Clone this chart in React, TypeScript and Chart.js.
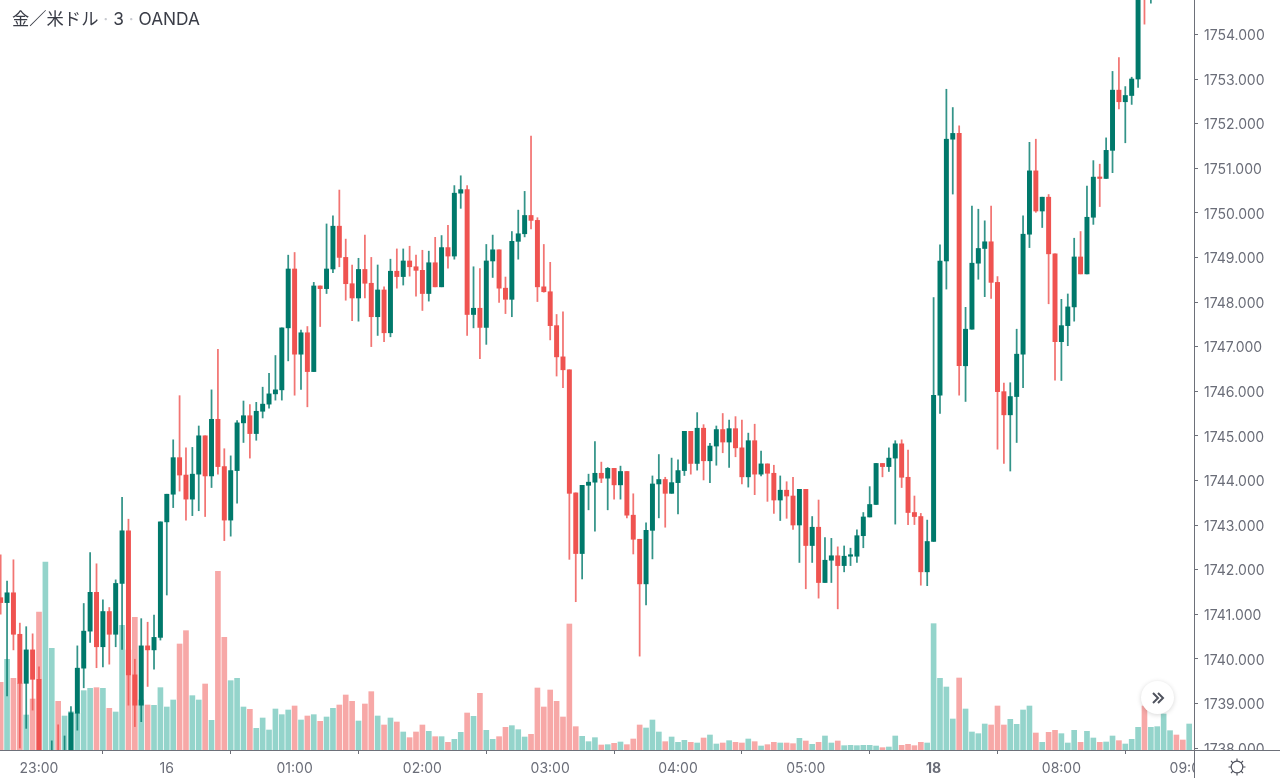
import React, { useEffect, useRef } from "react";
import { Chart, registerables } from "chart.js";

Chart.register(...registerables);

const firstBar = -6;

const opens = [
  1741.37,1741.26,1741.48,1740.55,1739.45,1740.20,1739.54,1737.60,1737.70,1737.85,
  1737.70,1737.90,1738.78,1739.79,1740.62,1741.49,1740.27,1741.06,1740.55,1741.69,
  1742.87,1739.64,1738.96,1740.29,1740.20,1740.48,1743.07,1743.69,1744.51,1744.12,
  1743.58,1744.14,1745.00,1744.10,1745.37,1744.31,1743.11,1744.22,1745.29,1745.45,
  1745.05,1745.55,1745.71,1745.94,1746.03,1747.42,1748.74,1746.83,1747.31,1746.44,
  1748.36,1748.30,1748.74,1749.70,1749.00,1748.41,1748.09,1748.73,1748.42,1747.67,
  1748.27,1747.31,1748.69,1748.57,1748.92,1748.79,1748.71,1748.19,1748.88,1748.34,
  1749.22,1749.03,1750.44,1750.52,1747.72,1747.86,1747.43,1748.92,1749.17,1748.31,
  1748.06,1749.36,1749.53,1749.94,1749.83,1748.34,1748.23,1747.47,1746.77,1746.48,
  1743.72,1742.36,1743.89,1743.96,1744.16,1744.05,1744.27,1743.90,1744.20,1743.22,
  1742.68,1741.68,1742.88,1743.92,1744.02,1743.71,1743.95,1744.22,1745.10,1744.38,
  1745.17,1744.44,1744.77,1745.14,1744.86,1745.16,1744.73,1744.08,1744.89,1744.14,
  1744.37,1744.16,1743.56,1743.78,1743.65,1743.00,1743.80,1742.54,1742.95,1741.71,
  1742.21,1742.31,1742.09,1742.30,1742.30,1742.76,1743.18,1743.46,1744.38,1744.31,
  1744.50,1744.82,1744.07,1743.28,1743.19,1741.95,1742.63,1745.91,1748.92,1751.65,
  1751.78,1746.57,1747.39,1748.87,1749.20,1749.35,1748.44,1745.99,1745.47,1745.88,
  1746.83,1749.52,1750.94,1750.04,1750.35,1749.08,1747.11,1747.47,1747.89,1749.01,
  1748.63,1749.90,1750.80,1750.77,1751.40,1752.75,1752.49,1752.63,1753.00,1755.70,
  1755.20,1755.80,1756.20,1757.00,1757.30,1757.00,1756.80,
];

const highs = [
  1742.33,1741.74,1742.22,1740.80,1740.72,1740.56,1739.82,1737.80,1738.16,1738.52,
  1738.27,1738.93,1740.29,1741.24,1742.38,1742.13,1741.32,1741.15,1741.77,1743.62,
  1743.13,1739.99,1740.90,1740.82,1740.98,1743.07,1743.69,1744.91,1745.90,1744.73,
  1744.74,1745.22,1745.00,1746.03,1746.94,1744.71,1744.55,1745.34,1745.78,1745.70,
  1745.75,1746.09,1746.40,1746.80,1747.42,1749.05,1749.11,1747.37,1747.45,1748.44,
  1748.36,1749.75,1749.93,1750.51,1749.41,1748.83,1748.98,1749.50,1749.00,1748.83,
  1748.34,1748.96,1749.19,1749.19,1749.25,1749.05,1749.16,1749.14,1749.45,1749.49,
  1749.72,1750.61,1750.83,1750.61,1748.79,1748.75,1749.29,1749.50,1749.17,1748.56,
  1749.58,1750.06,1750.48,1751.72,1749.89,1749.29,1748.89,1747.72,1747.78,1746.48,
  1743.72,1743.89,1744.14,1744.87,1744.41,1744.29,1744.27,1744.32,1744.20,1743.70,
  1742.68,1743.05,1744.10,1744.58,1744.07,1744.50,1744.46,1745.10,1745.10,1745.52,
  1745.25,1744.83,1745.22,1745.50,1745.35,1745.43,1745.35,1745.06,1745.26,1744.66,
  1744.37,1744.34,1744.10,1743.97,1744.07,1743.80,1743.80,1743.19,1743.56,1742.72,
  1742.70,1742.51,1742.53,1742.48,1742.89,1743.28,1743.86,1744.38,1744.38,1744.73,
  1744.89,1744.91,1744.68,1743.65,1743.26,1743.11,1748.10,1749.28,1752.77,1752.36,
  1751.95,1747.88,1750.15,1750.08,1749.82,1750.15,1748.57,1746.18,1746.19,1747.39,
  1749.93,1751.58,1751.65,1750.35,1750.41,1749.08,1748.06,1748.18,1749.43,1749.58,
  1750.60,1751.17,1751.09,1751.68,1753.17,1753.48,1752.83,1753.04,1755.50,1756.00,
  1756.10,1756.40,1757.20,1757.60,1757.50,1757.20,1757.50,
];

const lows = [
  1741.00,1739.17,1740.20,1738.00,1738.44,1738.85,1737.50,1737.40,1737.40,1737.50,
  1737.50,1737.80,1738.40,1739.35,1740.37,1739.80,1739.82,1739.88,1740.27,1740.21,
  1738.96,1738.48,1738.59,1739.38,1739.77,1740.42,1741.43,1743.39,1743.76,1743.11,
  1743.21,1743.32,1743.19,1743.84,1744.14,1742.65,1742.75,1743.49,1744.85,1744.50,
  1744.90,1745.40,1745.62,1745.80,1745.80,1746.68,1745.91,1746.04,1745.65,1746.44,
  1747.45,1748.19,1748.66,1748.79,1748.04,1747.58,1747.57,1748.09,1747.00,1747.25,
  1747.11,1747.22,1748.31,1748.38,1748.58,1748.13,1747.81,1748.02,1748.34,1748.34,
  1748.76,1748.96,1750.10,1747.25,1747.42,1746.73,1747.05,1748.55,1747.99,1747.74,
  1747.67,1748.96,1749.46,1749.64,1748.01,1748.22,1747.15,1746.34,1746.08,1742.23,
  1741.28,1741.79,1743.34,1742.86,1743.95,1743.34,1743.58,1743.58,1743.16,1742.35,
  1740.06,1741.21,1742.24,1743.16,1742.95,1743.71,1743.25,1744.11,1744.14,1744.23,
  1744.01,1743.95,1744.34,1744.62,1744.29,1744.53,1743.92,1743.85,1743.68,1744.10,
  1743.53,1743.26,1743.10,1743.15,1742.90,1742.16,1741.57,1742.16,1741.36,1741.71,
  1741.71,1741.12,1741.95,1742.09,1742.16,1742.49,1743.18,1743.46,1744.08,1744.20,
  1743.02,1743.84,1743.01,1743.01,1741.65,1741.64,1742.63,1745.50,1748.29,1750.42,
  1745.91,1745.77,1747.39,1748.51,1748.12,1748.08,1744.70,1744.38,1744.21,1744.85,
  1746.08,1749.22,1750.01,1749.67,1747.96,1746.25,1746.24,1747.02,1747.57,1748.63,
  1748.63,1749.74,1750.14,1750.77,1750.90,1752.33,1751.57,1752.43,1752.81,1754.23,
  1754.70,1755.30,1756.00,1756.80,1756.70,1756.60,1756.60,
];

const closes = [
  1741.26,1741.48,1740.55,1739.45,1740.20,1739.54,1737.90,1737.70,1737.85,1737.70,
  1737.90,1738.79,1739.79,1740.62,1741.49,1740.27,1741.06,1740.55,1741.69,1742.87,
  1739.64,1738.96,1740.29,1740.20,1740.48,1743.07,1743.69,1744.51,1744.12,1743.58,
  1744.14,1745.00,1744.10,1745.37,1744.31,1743.11,1744.22,1745.29,1745.45,1745.05,
  1745.55,1745.71,1745.94,1746.03,1747.42,1748.74,1746.83,1747.31,1746.44,1748.36,
  1748.30,1748.74,1749.70,1749.00,1748.41,1748.09,1748.73,1748.42,1747.67,1748.27,
  1747.31,1748.69,1748.57,1748.92,1748.79,1748.71,1748.19,1748.88,1748.34,1749.22,
  1749.03,1750.44,1750.52,1747.72,1747.86,1747.43,1748.92,1749.17,1748.31,1748.06,
  1749.36,1749.53,1749.94,1749.83,1748.34,1748.23,1747.47,1746.77,1746.48,1743.71,
  1742.36,1743.89,1743.96,1744.16,1744.05,1744.27,1743.90,1744.20,1743.22,1742.68,
  1741.68,1742.88,1743.92,1744.02,1743.71,1743.95,1744.22,1745.10,1744.38,1745.17,
  1744.44,1744.77,1745.14,1744.86,1745.16,1744.73,1744.08,1744.89,1744.14,1744.37,
  1744.16,1743.56,1743.78,1743.65,1743.00,1743.80,1742.54,1742.95,1741.71,1742.21,
  1742.31,1742.09,1742.30,1742.31,1742.76,1743.18,1743.46,1744.38,1744.31,1744.50,
  1744.82,1744.07,1743.28,1743.19,1741.95,1742.63,1745.91,1748.92,1751.65,1751.78,
  1746.57,1747.39,1748.87,1749.20,1749.35,1748.44,1745.99,1745.47,1745.88,1746.83,
  1749.52,1750.94,1750.04,1750.35,1749.08,1747.11,1747.47,1747.89,1749.01,1748.63,
  1749.90,1750.80,1750.77,1751.40,1752.75,1752.49,1752.63,1753.00,1755.20,1755.20,
  1755.80,1756.20,1757.00,1757.30,1757.00,1756.80,1757.30,
];

const volumes = [
  203,272,215,200,105,153,414,564,305,146,
  102,115,110,178,185,187,185,125,114,374,
  300,398,150,135,134,187,129,150,318,358,
  163,150,198,89,536,338,208,215,129,122,
  65,96,60,123,106,120,132,90,102,106,
  86,99,125,135,165,146,87,138,175,102,
  75,96,84,54,37,54,75,56,40,40,
  23,32,53,111,101,170,59,32,40,68,
  73,61,39,47,186,129,180,146,99,378,
  70,41,25,37,15,16,20,24,16,33,
  75,66,90,54,25,39,23,29,23,21,
  36,45,18,21,28,23,21,33,25,12,
  16,23,21,21,19,35,27,17,23,42,
  21,27,13,14,13,14,14,12,7,9,
  42,14,17,13,23,21,379,215,189,93,
  216,123,54,49,78,75,132,75,92,77,
  120,132,51,23,53,59,49,21,59,23,
  56,36,23,24,42,28,18,32,68,132,
  68,70,108,58,45,30,78,
];

const timeTicks = [0, 20, 40, 60, 80, 100, 120, 140, 160, 180];
const timeLabels = ["23:00", "16", "01:00", "02:00", "03:00", "04:00", "05:00", "18", "08:00", "09:00"];
const boldLabels = ["18"];
const priceTicks = [1738,1739,1740,1741,1742,1743,1744,1745,1746,1747,1748,1749,1750,1751,1752,1753,1754];

const UP = "#00796b";
const DOWN = "#ef5350";
const UP_WICK = "rgba(0,121,107,0.8)";
const DOWN_WICK = "rgba(239,83,80,0.8)";
const UP_VOL = "#94d4cb";
const DOWN_VOL = "#f7a8a7";
const AXIS = "#6d7079";
const TEXT = "#6a6d78";
const FONT = 'Inter, "Noto Sans", sans-serif';

const xs = opens.map((_, i) => firstBar + i);
const isUp = opens.map((o, i) => closes[i] >= o);

const framePlugin = {
  id: "frame",
  afterDraw(chart: any) {
    const { ctx, chartArea, width, height } = chart;
    ctx.save();
    ctx.fillStyle = "#ffffff";
    ctx.fillRect(chartArea.right, chartArea.bottom, width - chartArea.right, height - chartArea.bottom);
    ctx.strokeStyle = AXIS;
    ctx.lineWidth = 1;
    ctx.beginPath();
    ctx.moveTo(chartArea.right + 0.5, 0);
    ctx.lineTo(chartArea.right + 0.5, height);
    ctx.moveTo(0, chartArea.bottom + 0.5);
    ctx.lineTo(width, chartArea.bottom + 0.5);
    ctx.stroke();
    ctx.restore();
  },
};

export default function App() {
  const ref = useRef<HTMLCanvasElement>(null);

  useEffect(() => {
    const chart = new Chart(ref.current as HTMLCanvasElement, {
      type: "bar",
      plugins: [framePlugin],
      data: {
        datasets: [
          {
            label: "body",
            order: 1,
            yAxisID: "y",
            data: xs.map((x, i) => ({ x, y: [opens[i], closes[i]] })),
            backgroundColor: isUp.map((u) => (u ? UP : DOWN)),
            barThickness: 4.3,
            minBarLength: 1.5,
            borderSkipped: false,
          },
          {
            label: "wick",
            order: 2,
            yAxisID: "y",
            data: xs.map((x, i) => ({ x, y: [lows[i], highs[i]] })),
            backgroundColor: isUp.map((u) => (u ? UP_WICK : DOWN_WICK)),
            barThickness: 1.1,
            borderSkipped: false,
          },
          {
            label: "volume",
            order: 3,
            yAxisID: "vol",
            data: xs.map((x, i) => ({ x, y: volumes[i] })),
            backgroundColor: isUp.map((u) => (u ? UP_VOL : DOWN_VOL)),
            barThickness: 5,
          },
        ] as any,
      },
      options: {
        responsive: false,
        animation: false,
        events: [],
        devicePixelRatio: 1,
        layout: { padding: 0 },
        datasets: { bar: { grouped: false } },
        plugins: { legend: { display: false }, tooltip: { enabled: false }, title: { display: false } },
        scales: {
          x: {
            type: "linear",
            min: -39 / 6.39,
            max: 1155 / 6.39,
            offset: false,
            afterFit(s: any) { s.height = 28; s.paddingLeft = 0; s.paddingRight = 0; },
            afterBuildTicks(s: any) { s.ticks = timeTicks.map((value) => ({ value })); },
            border: { display: false },
            grid: { drawOnChartArea: false, drawTicks: true, tickLength: 4, color: AXIS },
            ticks: {
              autoSkip: false,
              maxRotation: 0,
              padding: 6,
              color: TEXT,
              font: (c: any) => {
                const label = timeLabels[timeTicks.indexOf(c.tick?.value)];
                return { family: FONT, size: 14, weight: boldLabels.includes(label) ? "bold" : "normal" };
              },
              callback: (v: any) => timeLabels[timeTicks.indexOf(v)],
            },
          },
          y: {
            position: "right",
            min: 1738 - 2 / 44.6,
            max: 1738 + 748 / 44.6,
            afterFit(s: any) { s.width = 86; s.paddingTop = 0; s.paddingBottom = 0; },
            afterBuildTicks(s: any) { s.ticks = priceTicks.map((value) => ({ value })); },
            border: { display: false },
            grid: { drawOnChartArea: false, drawTicks: true, tickLength: 4, color: AXIS },
            ticks: {
              autoSkip: false,
              padding: 6,
              labelOffset: 1.5,
              color: TEXT,
              font: { family: FONT, size: 14 },
              callback: (v: any) => Number(v).toFixed(3),
            },
          },
          vol: { display: false, min: 0, max: 2250 },
        },
      } as any,
    });
    return () => chart.destroy();
  }, []);

  return (
    <div style={{ position: "fixed", left: 0, top: 0, width: 1280, height: 778, background: "#fff", overflow: "hidden" }}>
      <canvas ref={ref} width={1280} height={778} style={{ display: "block" }} />
      <div
        style={{
          position: "absolute", left: 12, top: 8, color: "#3a3d47", fontSize: 17.3, lineHeight: "22px",
          fontFamily: 'Inter, "Noto Sans CJK JP", sans-serif', whiteSpace: "nowrap",
        }}
      >
        金／米ドル <span style={{ color: "#c8cad0" }}>·</span> 3 <span style={{ color: "#c8cad0" }}>·</span> OANDA
      </div>
      <div
        style={{
          position: "absolute", left: 1141, top: 681, width: 33, height: 33, borderRadius: "50%", background: "#fff",
          boxShadow: "0 1px 5px rgba(0,0,0,0.16)", display: "flex", alignItems: "center", justifyContent: "center",
        }}
      >
        <svg width="14" height="14" viewBox="0 0 14 14" fill="none" stroke="#50535e" strokeWidth="2">
          <path d="M2 2 L7 7 L2 12 M7 2 L12 7 L7 12" />
        </svg>
      </div>
      <svg style={{ position: "absolute", left: 1227, top: 757 }} width="20" height="20" viewBox="0 0 20 20" fill="none" stroke="#50535e" strokeWidth="1.2">
        <circle cx="10" cy="10" r="5.8" />
        <path d="M10 1.5V4.2M10 15.8V18.5M1.5 10H4.2M15.8 10H18.5M4 4L5.9 5.9M14.1 14.1L16 16M4 16L5.9 14.1M14.1 5.9L16 4" />
      </svg>
    </div>
  );
}
